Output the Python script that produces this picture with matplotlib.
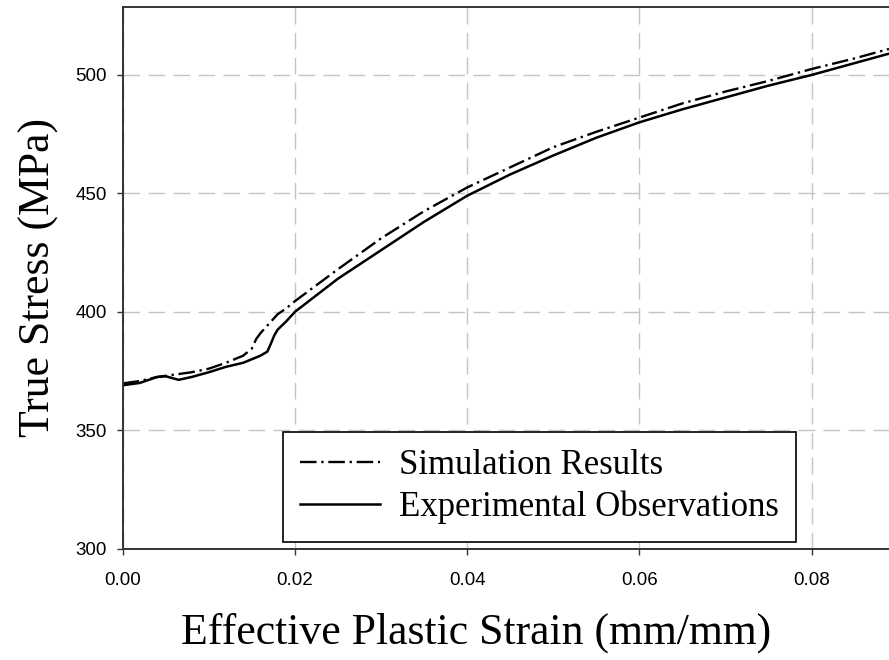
import numpy as np
import matplotlib
matplotlib.use("Agg")
import matplotlib.pyplot as plt

# strain (mm/mm) and true stress (MPa)
sim_strain = [0.000, 0.002, 0.004, 0.006, 0.008, 0.010, 0.012, 0.014, 0.015,
              0.0155, 0.016, 0.017, 0.018, 0.019, 0.020, 0.025, 0.030, 0.035,
              0.040, 0.045, 0.050, 0.055, 0.060, 0.065, 0.070, 0.075, 0.080,
              0.085, 0.089]
sim_stress = [369.8, 370.8, 372.5, 373.5, 374.5, 376.0, 378.5, 381.5, 384.5,
              388.5, 391.0, 395.0, 399.0, 401.5, 404.5, 418.0, 431.0, 442.5,
              452.5, 461.0, 469.5, 476.0, 482.0, 488.0, 493.0, 497.5, 502.5,
              507.0, 511.0]

exp_strain = [0.000, 0.002, 0.004, 0.005, 0.0065, 0.008, 0.010, 0.012, 0.014,
              0.016, 0.0168, 0.0172, 0.0176, 0.018, 0.019, 0.020, 0.025, 0.030,
              0.035, 0.040, 0.045, 0.050, 0.055, 0.060, 0.065, 0.070, 0.075,
              0.080, 0.085, 0.089]
exp_stress = [369.0, 370.0, 372.5, 372.8, 371.3, 372.5, 374.5, 376.8, 378.5,
              381.5, 383.2, 386.5, 390.0, 392.5, 396.0, 400.0, 414.0, 426.0,
              438.0, 449.0, 458.0, 466.0, 473.5, 480.0, 485.5, 490.5, 495.5,
              500.0, 505.0, 509.0]

x_ticks = [0.00, 0.02, 0.04, 0.06, 0.08]
y_ticks = [300, 350, 400, 450, 500]

fig = plt.figure(figsize=(8.89, 6.6), dpi=100)
ax = fig.add_axes([0.138, 0.1686, 0.862, 0.8208])

ax.plot(sim_strain, sim_stress, color="black", lw=1.7,
        ls=(0, (7, 2, 1, 2)), label="Simulation Results")
ax.plot(exp_strain, exp_stress, color="black", lw=1.8,
        label="Experimental Observations")

ax.set_xlim(0, 0.089)
ax.set_ylim(300, 528.7)
ax.set_xticks(x_ticks)
ax.set_yticks(y_ticks)
ax.set_xticklabels(["%.2f" % v for v in x_ticks])
ax.set_yticklabels([str(v) for v in y_ticks])

ax.grid(True, color="#c4c4c4", lw=1.0, ls=(0, (12, 6)))
ax.set_axisbelow(True)

for s in ["left", "top", "bottom"]:
    ax.spines[s].set_color("#333333")
    ax.spines[s].set_linewidth(1.4)
ax.spines["right"].set_visible(False)

ax.tick_params(direction="out", length=4.5, width=1.0, color="#333333",
               labelsize=13.5)
ax.tick_params(axis="x", pad=12)
ax.tick_params(axis="y", pad=7)
for lab in ax.get_xticklabels() + ax.get_yticklabels():
    lab.set_family("Liberation Sans")

ax.set_xlabel("Effective Plastic Strain (mm/mm)", family="Liberation Serif",
              fontsize=31.5, labelpad=17, x=0.461)
ax.set_ylabel("True Stress (MPa)", family="Liberation Serif",
              fontsize=31.5, labelpad=12)

leg = ax.legend(loc="lower left", bbox_to_anchor=(0.209, 0.013),
                borderaxespad=0, fancybox=False, framealpha=1,
                edgecolor="black", handlelength=2.3, handletextpad=0.55,
                labelspacing=0.25, borderpad=0.5,
                prop={"family": "Liberation Serif", "size": 25})
leg.get_frame().set_linewidth(1.2)

fig.savefig("out.png", dpi=100)
